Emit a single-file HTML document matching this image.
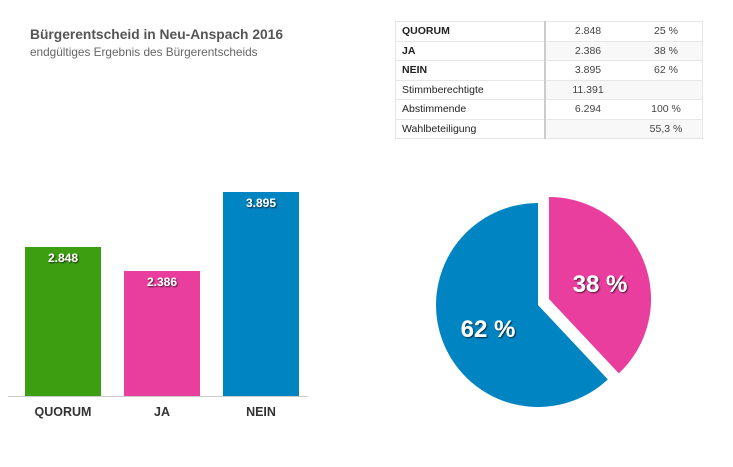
<!DOCTYPE html>
<html><head><meta charset="utf-8"><style>
body{margin:0;width:733px;height:467px;background:#fff;font-family:"Liberation Sans",sans-serif;position:relative;overflow:hidden}
.t{position:absolute;left:30px;top:27px;font-size:13.8px;font-weight:bold;color:#555}
.s{position:absolute;left:30px;top:45px;font-size:11.8px;color:#666}
table{position:absolute;left:395px;top:21px;border-collapse:collapse;font-size:10.5px;color:#222;table-layout:fixed;width:307px}
td{height:18.5px;border:1px solid #e6e6e6;padding:0 0 0 6px;line-height:18.5px;overflow:hidden;white-space:nowrap}
td.a{width:142px;font-weight:bold}
td.b{width:84px;padding:0;text-align:center;color:#444;border-left:2px solid #ccc;border-right:none}
td.c{width:72px;padding:0;text-align:center;color:#444;border-left:none}
tr:nth-child(even) td.b,tr:nth-child(even) td.c{background:#f8f8f8}
</style></head><body>
<div class="t">Bürgerentscheid in Neu-Anspach 2016</div>
<div class="s">endgültiges Ergebnis des Bürgerentscheids</div>
<table>
<tr><td class="a">QUORUM</td><td class="b">2.848</td><td class="c">25 %</td></tr>
<tr><td class="a">JA</td><td class="b">2.386</td><td class="c">38 %</td></tr>
<tr><td class="a">NEIN</td><td class="b">3.895</td><td class="c">62 %</td></tr>
<tr><td class="a" style="font-weight:normal">Stimmberechtigte</td><td class="b">11.391</td><td class="c"></td></tr>
<tr><td class="a" style="font-weight:normal">Abstimmende</td><td class="b">6.294</td><td class="c">100 %</td></tr>
<tr><td class="a" style="font-weight:normal">Wahlbeteiligung</td><td class="b"></td><td class="c">55,3 %</td></tr>
</table>
<svg width="733" height="467" style="position:absolute;left:0;top:0" font-family="Liberation Sans, sans-serif">
<defs><filter id="sh"><feDropShadow dx="1" dy="1" stdDeviation="0.8" flood-color="#000" flood-opacity="0.7"/></filter></defs>
<rect x="25" y="247" width="76" height="149" fill="#3d9e12"/>
<rect x="124" y="271" width="76" height="125" fill="#ea3e9f"/>
<rect x="223" y="192" width="76" height="204" fill="#0084c2"/>
<line x1="8" y1="396.5" x2="308" y2="396.5" stroke="#ccc"/>
<g fill="#fff" font-size="12" font-weight="bold" text-anchor="middle" filter="url(#sh)">
<text x="63" y="262">2.848</text><text x="162" y="286">2.386</text><text x="261" y="207">3.895</text></g>
<g fill="#333" font-size="12.5" font-weight="bold" text-anchor="middle">
<text x="63" y="416">QUORUM</text><text x="162" y="416">JA</text><text x="261" y="416">NEIN</text></g>
<path d="M538 305 L607.8 379.4 A102 102 0 1 1 538 203 Z" fill="#0084c2"/>
<path d="M549 299 L549 197 A102 102 0 0 1 618.8 373.4 Z" fill="#ea3e9f"/>
<g fill="#fff" font-size="24" font-weight="bold" text-anchor="middle" filter="url(#sh)">
<text x="600" y="292">38 %</text><text x="488" y="337">62 %</text></g>
</svg>
</body></html>
